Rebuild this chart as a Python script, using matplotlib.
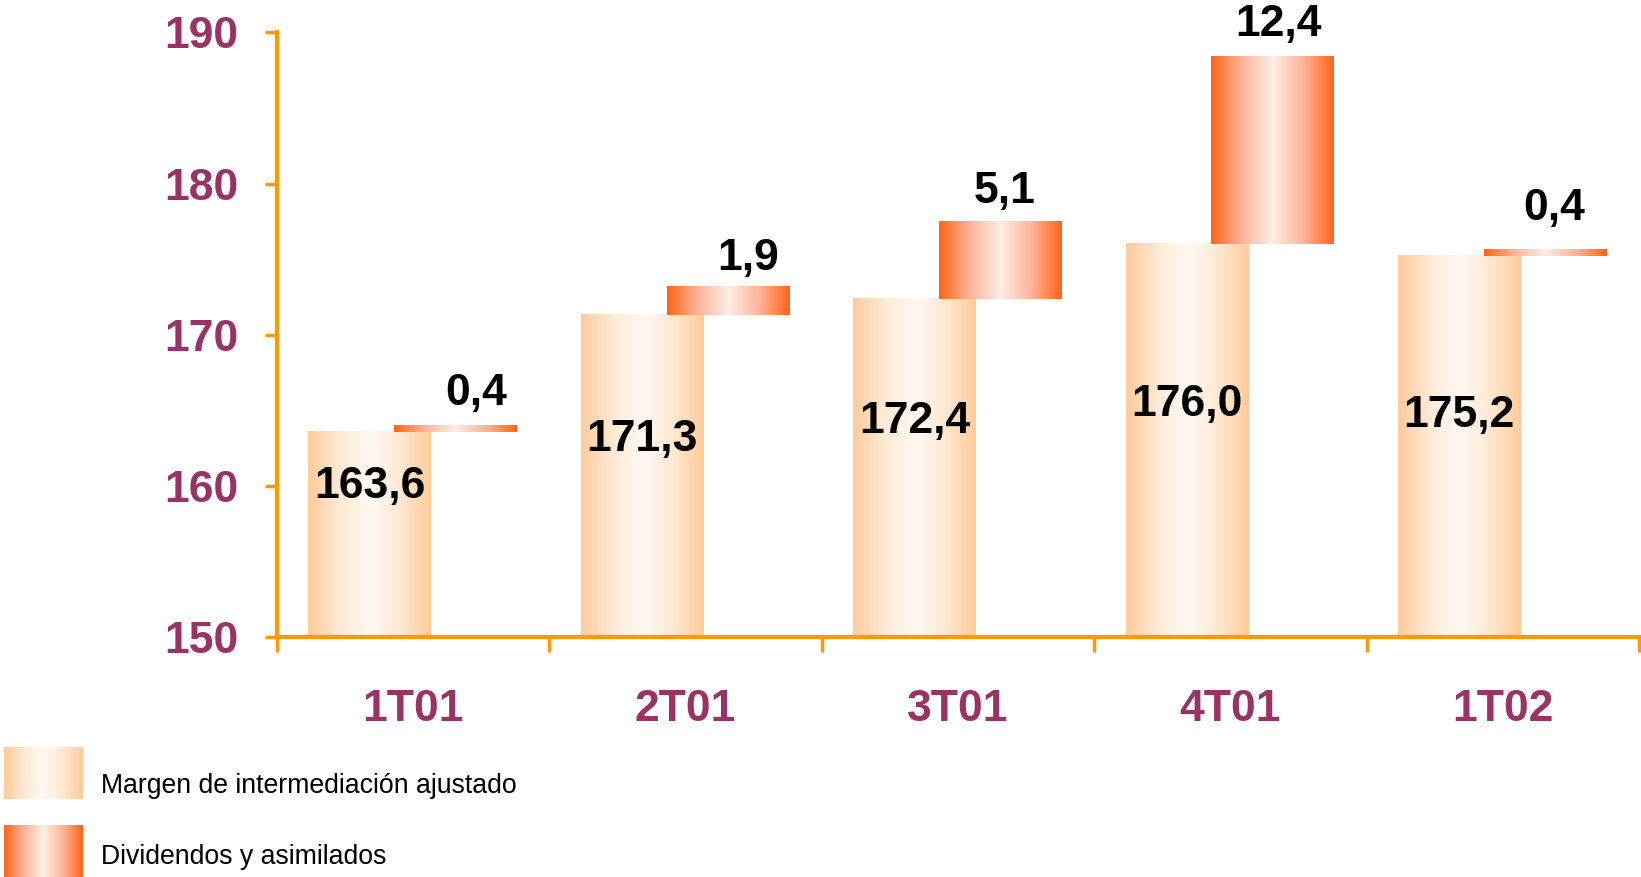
import numpy as np
import matplotlib
matplotlib.use('Agg')
import matplotlib.pyplot as plt
from matplotlib.colors import LinearSegmentedColormap

plt.rcParams['font.family'] = ['Liberation Sans', 'DejaVu Sans']

# data
quarters = ['1T01', '2T01', '3T01', '4T01', '1T02']
margen = [163.6, 171.3, 172.4, 176.0, 175.2]
dividendos = [0.4, 1.9, 5.1, 12.4, 0.4]
margen_labels = ['163,6', '171,3', '172,4', '176,0', '175,2']
div_labels = ['0,4', '1,9', '5,1', '12,4', '0,4']
# label placement
margen_label_y = [160.0, 163.1, 164.3, 165.4, 164.7]
div_label_dx = [0.077, 0.073, 0.016, 0.02, 0.035]
div_label_dy = [23.5, 20.5, 21.3, 22.8, 30]

axis_col = '#FF9900'
tick_col = '#993366'

cm_base = LinearSegmentedColormap.from_list('base', ['#FECB99', '#FFE9D4', '#FFF9F3', '#FFE9D4', '#FECB99'])
cm_div = LinearSegmentedColormap.from_list('div', ['#FF6416', '#FFB49A', '#FDEEE4', '#FFB49A', '#FF6416'])
grad = np.linspace(0, 1, 256).reshape(1, -1)

W, H = 1641, 877
fig = plt.figure(figsize=(W / 100, H / 100), dpi=100)
ax = fig.add_axes([277 / W, 1 - 637.4 / H, (1639 - 277) / W, (637.4 - 32.4) / H])

base_left, bar_w, div_left = 0.115, 0.45, 0.43
for i in range(len(quarters)):
    x0 = i + base_left
    ax.imshow(grad, cmap=cm_base, aspect='auto', interpolation='bilinear',
              extent=[x0, x0 + bar_w, 150, margen[i]], zorder=2)
    ax.text(x0 + bar_w / 2, margen_label_y[i], margen_labels[i], ha='center', va='center',
            fontsize=32, fontweight='bold', color='black', zorder=4)
    d0 = i + div_left
    top = margen[i] + dividendos[i]
    ax.imshow(grad, cmap=cm_div, aspect='auto', interpolation='bilinear',
              extent=[d0, d0 + bar_w, margen[i], top], zorder=3)
    ax.annotate(div_labels[i], (d0 + bar_w / 2 + div_label_dx[i], top), xytext=(0, div_label_dy[i]),
                textcoords='offset points', ha='center', va='center',
                fontsize=32, fontweight='bold', color='black', zorder=4)

ax.set_xlim(0, len(quarters))
ax.set_ylim(150, 190)
for s in ['top', 'right']:
    ax.spines[s].set_visible(False)
for s in ['left', 'bottom']:
    ax.spines[s].set_color(axis_col)
    ax.spines[s].set_linewidth(3)
    ax.spines[s].set_zorder(5)

ax.set_yticks([150, 160, 170, 180, 190])
ax.tick_params(axis='y', colors=axis_col, labelcolor=tick_col, length=9, width=2.5,
               pad=19, labelsize=32)
for t in ax.get_yticklabels():
    t.set_fontweight('bold')

ax.set_xticks(np.arange(len(quarters) + 1))
ax.set_xticklabels([])
ax.tick_params(axis='x', which='major', colors=axis_col, length=11, width=2.5)
ax.set_xticks(np.arange(len(quarters)) + 0.5, minor=True)
ax.set_xticklabels(quarters, minor=True, fontsize=32, fontweight='bold', color=tick_col)
ax.tick_params(axis='x', which='minor', length=0, pad=37)

# legend
for k, (cm, lab) in enumerate([(cm_base, 'Margen de intermediación ajustado'),
                               (cm_div, 'Dividendos y asimilados')]):
    y_top = [747, 825][k]
    lax = fig.add_axes([4 / W, 1 - (y_top + 52) / H, 79 / W, 52 / H])
    lax.imshow(grad, cmap=cm, aspect='auto', interpolation='bilinear')
    lax.axis('off')
    fig.text(101 / W, 1 - [786, 857][k] / H, lab, ha='left', va='center', fontsize=19.2, color='black')

plt.savefig('out.png', dpi=100)
